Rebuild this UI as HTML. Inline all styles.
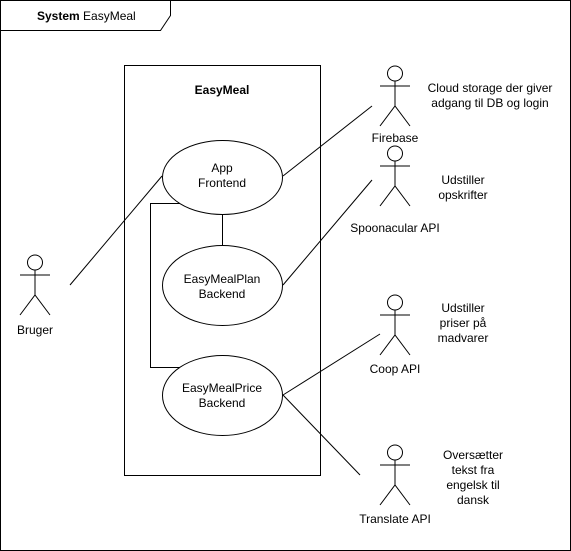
<!DOCTYPE html>
<html><head><style>body{margin:0;background:#fff}svg{display:block}text{font-family:"Liberation Sans",Arial,sans-serif;font-size:12px;fill:#000}</style></head>
<body>
<svg width="571" height="551" viewBox="0 0 571 551" xmlns="http://www.w3.org/2000/svg">
<g fill="none" stroke="#000" stroke-width="1">
<rect x="0.5" y="0.5" width="570" height="550"/>
<path d="M0.5 30.5 H160.5 L170.5 15.5 V0.5"/>
<rect x="124.5" y="65.5" width="196" height="410"/>
<line x1="70" y1="285" x2="162" y2="176"/>
<line x1="283" y1="176" x2="372" y2="106"/>
<line x1="283" y1="285" x2="372" y2="180"/>
<line x1="283" y1="395" x2="380" y2="334"/>
<line x1="283" y1="395" x2="360" y2="475"/>
<line x1="222.5" y1="212" x2="222.5" y2="250"/>
<path d="M180 203.5 H150.5 V367.5 H180"/>
<ellipse cx="222.5" cy="177.5" rx="60" ry="37" fill="#fff"/>
<ellipse cx="222.5" cy="285.5" rx="60" ry="40" fill="#fff"/>
<ellipse cx="222.5" cy="395.5" rx="60" ry="40" fill="#fff"/>
<line x1="222.5" y1="214.5" x2="222.5" y2="245.5"/>
</g>
<g fill="none" stroke="#000">
<g transform="translate(20,255)"><circle cx="15" cy="7.5" r="7.5"/><path d="M15 15V40M0 20H30M0 60L15 40L30 60"/></g>
<g transform="translate(380,66)"><circle cx="15" cy="7.5" r="7.5"/><path d="M15 15V40M0 20H30M0 60L15 40L30 60"/></g>
<g transform="translate(380,146)"><circle cx="15" cy="7.5" r="7.5"/><path d="M15 15V40M0 20H30M0 60L15 40L30 60"/></g>
<g transform="translate(380,295)"><circle cx="15" cy="7.5" r="7.5"/><path d="M15 15V40M0 20H30M0 60L15 40L30 60"/></g>
<g transform="translate(380,445)"><circle cx="15" cy="7.5" r="7.5"/><path d="M15 15V40M0 20H30M0 60L15 40L30 60"/></g>
</g>
<text x="37" y="20"><tspan font-weight="bold">System</tspan> EasyMeal</text>
<g text-anchor="middle">
<text x="222" y="94" font-weight="bold">EasyMeal</text>
<text x="222" y="172">App</text><text x="222" y="187">Frontend</text>
<text x="222" y="283">EasyMealPlan</text><text x="222" y="298">Backend</text>
<text x="222" y="392">EasyMealPrice</text><text x="222" y="407">Backend</text>
<text x="35" y="334">Bruger</text>
<text x="395" y="142">Firebase</text>
<text x="395" y="232">Spoonacular API</text>
<text x="395" y="373">Coop API</text>
<text x="395" y="523">Translate API</text>
<text x="490" y="92">Cloud storage der giver</text><text x="490" y="107">adgang til DB og login</text>
<text x="463" y="184">Udstiller</text><text x="463" y="199">opskrifter</text>
<text x="463" y="312">Udstiller</text><text x="463" y="327">priser på</text><text x="463" y="342">madvarer</text>
<text x="473" y="459">Oversætter</text><text x="473" y="474">tekst fra</text><text x="473" y="489">engelsk til</text><text x="473" y="504">dansk</text>
</g>
</svg>
</body></html>
